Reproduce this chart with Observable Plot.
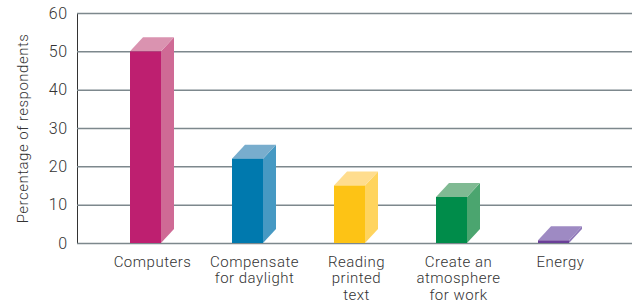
<!DOCTYPE html>
<html>
<head>
<meta charset="utf-8">
<script src="https://cdn.jsdelivr.net/npm/d3@7"></script>
<script src="https://cdn.jsdelivr.net/npm/@observablehq/plot@0.6"></script>
<style>
  html, body { margin: 0; padding: 0; background: #fff; }
  #chart svg { font-family: Roboto, "Open Sans", sans-serif; font-weight: 300; letter-spacing: 0.5px; }
</style>
</head>
<body>
<div id="chart"></div>
<script>
const categories = ["Computers", "Compensate for daylight", "Reading printed text", "Create an atmosphere for work", "Energy"];
const labels = ["Computers", "Compensate\nfor daylight", "Reading\nprinted\ntext", "Create an\natmosphere\nfor work", "Energy"];
const values = [50, 22, 15, 12, 0.7];
const frontColors = ["#be1f70", "#0079ae", "#fdc315", "#008c4a", "#6a3f98"];
const sideColors  = ["#cf6a95", "#4699c3", "#ffd45e", "#4ba56f", "#8f78b8"];
const topColors   = ["#da93b0", "#78adcd", "#ffdd8e", "#80ba93", "#9e8ac3"];
const yTicks = [0, 10, 20, 30, 40, 50, 60];
const yLabel = "Percentage of respondents";

const data = categories.map((c, i) => ({
  category: c, label: labels[i], value: values[i],
  front: frontColors[i], side: sideColors[i], top: topColors[i]
}));

const DX = 13, DY = 14;

const plot = Plot.plot({
  width: 635,
  height: 305,
  marginTop: 13,
  marginBottom: 62,
  marginLeft: 77,
  marginRight: 3,
  style: { fontFamily: "Roboto, 'Open Sans', sans-serif", fontSize: "15px", color: "#333" },
  color: { type: "identity" },
  x: { domain: categories, range: [93.25, 605.75], paddingInner: 0.7, paddingOuter: 0.35, axis: null },
  y: {
    domain: [0, 60], ticks: yTicks, tickSize: 0, tickPadding: 10, line: true,
    label: yLabel, labelAnchor: "center", labelOffset: 60
  },
  marks: [
    Plot.ruleY(yTicks, { stroke: "#7d888d", strokeWidth: 1.5 }),
    Plot.barY(data, { x: "category", y: "value", fill: "side" }),
    Plot.barY(data, { x: "category", y: "value", fill: "top" }),
    Plot.barY(data, { x: "category", y: "value", fill: "front" }),
    Plot.text(data, {
      x: "category", y: () => 0, text: "label", dx: DX / 2, dy: 11,
      lineAnchor: "top", lineHeight: 1.13, fontSize: 15, fill: "#333",
      fontWeight: 300
    })
  ]
});

// Turn the side and top bar rects into parallelograms for the 3D look
const bars = plot.querySelectorAll('g[aria-label="bar"]');
const ns = "http://www.w3.org/2000/svg";
function toPoly(g, kind) {
  g.querySelectorAll("rect").forEach(r => {
    const x = +r.getAttribute("x"), y = +r.getAttribute("y");
    const w = +r.getAttribute("width"), h = +r.getAttribute("height");
    let pts;
    if (kind === "side") {
      pts = [[x + w, y], [x + w + DX, y - DY], [x + w + DX, y + h - DY], [x + w, y + h]];
    } else {
      pts = [[x, y], [x + DX, y - DY], [x + w + DX, y - DY], [x + w, y]];
    }
    const p = document.createElementNS(ns, "polygon");
    p.setAttribute("points", pts.map(d => d.join(",")).join(" "));
    p.setAttribute("fill", r.getAttribute("fill"));
    r.replaceWith(p);
  });
}
if (bars.length >= 3) {
  toPoly(bars[0], "side");
  toPoly(bars[1], "top");
}
// style the y axis line and text
plot.querySelectorAll('g[aria-label="y-axis"] path, g[aria-label="y-axis line"] path, path.domain').forEach(p => {
  p.setAttribute("stroke", "#7d888d");
  p.setAttribute("stroke-width", "1.5");
});
plot.querySelectorAll('g[aria-label^="y-axis"] text, g[aria-label^="y-axis"] tspan').forEach(t => {
  t.setAttribute("fill", "#333");
  if (/[↑→←↓]/.test(t.textContent) && t.children.length === 0) {
    t.textContent = t.textContent.replace(/\s*[↑→←↓]\s*/g, "").trim();
  }
});
plot.querySelectorAll('g[aria-label="y-axis tick label"] text, g[aria-label="y-axis"] g.tick text').forEach(t => {
  t.setAttribute("font-size", "16");
});
plot.querySelectorAll('g[aria-label="y-axis label"] text').forEach(t => {
  t.setAttribute("font-size", "15");
});
document.getElementById("chart").appendChild(plot);
</script>
</body>
</html>
